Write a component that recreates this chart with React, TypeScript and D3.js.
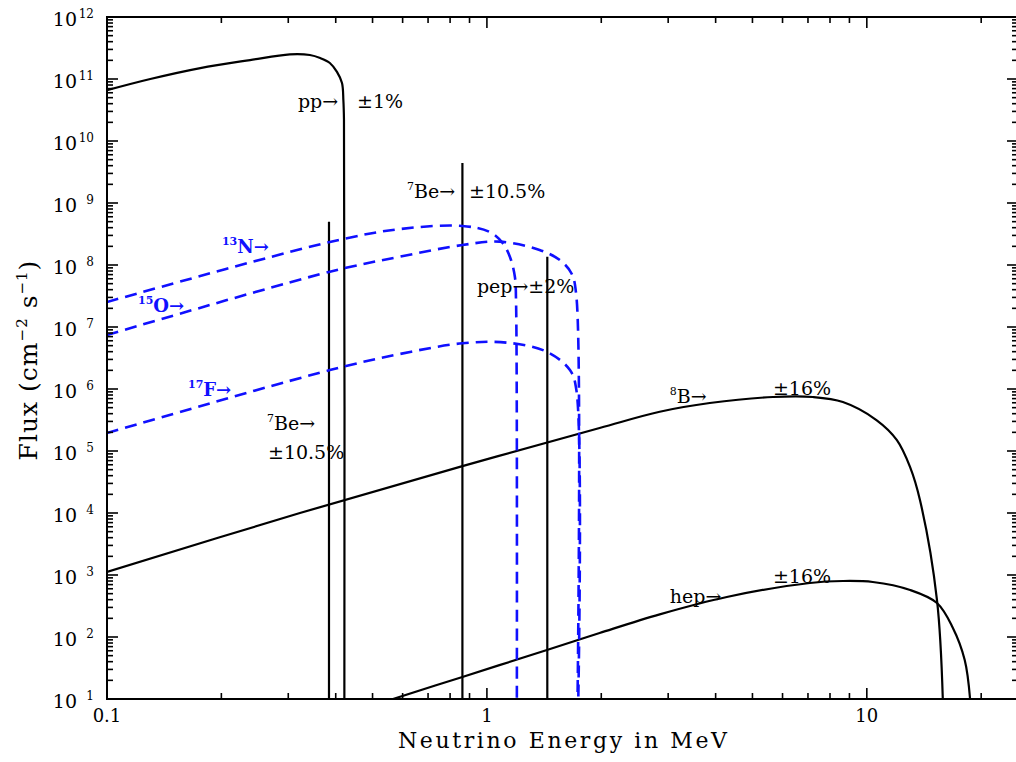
import React from "react";
import * as d3 from "d3";

type Pt = [number, number];

// Energies in MeV, flux in cm^-2 s^-1 (per MeV for continua)
const ppSpectrum: Pt[] = [
  [0.1, 6.6e10], [0.13, 1.0e11], [0.176, 1.5e11], [0.238, 2.02e11], [0.303, 2.5e11],
  [0.342, 2.44e11], [0.364, 2.18e11], [0.386, 1.81e11], [0.403, 1.3e11], [0.4155, 8.6e10],
  [0.419, 4.5e10], [0.4205, 2.2e10], [0.4215, 10],
];
const b8Spectrum: Pt[] = [
  [0.1, 1.12e3], [0.322, 1.0e4], [0.862, 5.7e4], [1.98, 2.35e5], [2.85, 4.3e5],
  [3.86, 5.94e5], [5.66, 7.43e5], [7.21, 7.43e5], [8.65, 6.17e5], [10.6, 3.16e5],
  [12.0, 1.5e5], [13.0, 5.5e4], [13.8, 1.62e4], [15.3, 395], [15.85, 10],
];
const hepSpectrum: Pt[] = [
  [0.566, 10], [0.862, 22.7], [1.439, 61.7], [1.98, 116], [2.85, 232], [4.28, 442],
  [7.08, 743], [8.65, 800], [10.37, 771], [13.0, 573], [15.3, 353], [16.8, 145],
  [18.1, 42.6], [18.7, 10],
];
const n13Spectrum: Pt[] = [
  [0.1, 2.53e7], [0.386, 2.35e8], [0.59, 3.8e8], [0.862, 4.26e8], [1.018, 3.4e8],
  [1.1, 2.26e8], [1.15, 1.35e8], [1.185, 6.4e7], [1.193, 2.7e7], [1.199, 10],
];
const o15Spectrum: Pt[] = [
  [0.1, 7.43e6], [0.386, 7.8e7], [0.59, 1.36e8], [0.862, 2.1e8], [1.08, 2.38e8],
  [1.376, 1.75e8], [1.556, 1.2e8], [1.67, 7.3e7], [1.72, 3.1e7], [1.732, 10],
];
const f17Spectrum: Pt[] = [
  [0.1, 1.95e5], [0.386, 2.02e6], [0.59, 3.67e6], [0.862, 5.46e6], [1.127, 5.6e6],
  [1.436, 4.0e6], [1.654, 2.02e6], [1.72, 9.6e5], [1.74, 10],
];

// Line sources (7Be 0.384, 7Be 0.862, pep 1.442)
const lineEnergies = [0.384, 0.862, 1.442];
const lineFluxes = [5.0e8, 4.4e9, 1.36e8];

const xDomain: Pt = [0.1, 25];
const yDomain: Pt = [10, 1e12];
const xTickValues = [0.1, 1, 10];
const xTickLabels = ["0.1", "1", "10"];
const yTickExponents = [1, 2, 3, 4, 5, 6, 7, 8, 9, 10, 11, 12];

type Part = { t: string; sup?: boolean };
type Ann = { E: number; F: number; parts: Part[]; blue?: boolean };

const annotations: Ann[] = [
  { E: 0.318, F: 3.4e10, parts: [{ t: "pp→" }] },
  { E: 0.455, F: 3.4e10, parts: [{ t: "±1%" }] },
  { E: 0.616, F: 1.2e9, parts: [{ t: "7", sup: true }, { t: "Be→" }] },
  { E: 0.897, F: 1.2e9, parts: [{ t: "±10.5%" }] },
  { E: 0.2007, F: 1.56e8, parts: [{ t: "13", sup: true }, { t: "N→" }], blue: true },
  { E: 0.1207, F: 1.75e7, parts: [{ t: "15", sup: true }, { t: "O→" }], blue: true },
  { E: 0.1634, F: 7.7e5, parts: [{ t: "17", sup: true }, { t: "F→" }], blue: true },
  { E: 0.2637, F: 2.18e5, parts: [{ t: "7", sup: true }, { t: "Be→" }] },
  { E: 0.2653, F: 7.43e4, parts: [{ t: "±10.5%" }] },
  { E: 0.941, F: 3.53e7, parts: [{ t: "pep→±2%" }] },
  { E: 3.03, F: 5.94e5, parts: [{ t: "8", sup: true }, { t: "B→" }] },
  { E: 5.66, F: 8.0e5, parts: [{ t: "±16%" }] },
  { E: 3.03, F: 353, parts: [{ t: "hep→" }] },
  { E: 5.66, F: 743, parts: [{ t: "±16%" }] },
];

const FONT = "'DejaVu Serif', serif";

export default function App() {
  const W = 1016;
  const H = 762;
  const x = d3.scaleLog().domain(xDomain).range([107, 1018]);
  const y = d3.scaleLog().domain(yDomain).range([699, 17]);
  const [x0, x1] = x.range();
  const [y0, y1] = y.range();
  const line = d3
    .line<Pt>()
    .x((d) => x(d[0]))
    .y((d) => y(d[1]))
    .curve(d3.curveCatmullRom.alpha(0.5));

  const xTicks: { v: number; major: boolean }[] = [];
  [0.1, 1, 10].forEach((b) => {
    for (let m = 1; m <= 9; m++) {
      const v = b * m;
      if (v >= xDomain[0] && v <= xDomain[1] + 1e-9) xTicks.push({ v, major: m === 1 });
    }
  });
  const yTicks: { v: number; major: boolean }[] = [];
  for (let e = 1; e <= 12; e++) {
    for (let m = 1; m <= 9; m++) {
      const v = m * Math.pow(10, e);
      if (v <= yDomain[1] * 1.0001) yTicks.push({ v, major: m === 1 });
    }
  }

  const blackSeries = [ppSpectrum, b8Spectrum, hepSpectrum];
  const blueSeries = [n13Spectrum, o15Spectrum, f17Spectrum];

  return (
    <svg
      width={W}
      height={H}
      style={{ position: "absolute", left: 0, top: 0, background: "#fff" }}
      fontFamily={FONT}
    >
      <defs>
        <clipPath id="plotclip">
          <rect x={x0} y={y1} width={x1 - x0} height={y0 - y1} />
        </clipPath>
      </defs>
      <rect x={0} y={0} width={W} height={H} fill="#fff" />

      <g clipPath="url(#plotclip)">
        {blackSeries.map((s, i) => (
          <path key={"b" + i} d={line(s) || ""} fill="none" stroke="#000" strokeWidth={2.2} />
        ))}
        {lineEnergies.map((e, i) => (
          <line
            key={"l" + i}
            x1={x(e)}
            x2={x(e)}
            y1={y(lineFluxes[i])}
            y2={y0}
            stroke="#000"
            strokeWidth={2.2}
          />
        ))}
        {blueSeries.map((s, i) => (
          <path
            key={"u" + i}
            d={line(s) || ""}
            fill="none"
            stroke="#1010ff"
            strokeWidth={2.6}
            strokeDasharray="12,7"
          />
        ))}
      </g>

      {/* frame */}
      <rect x={x0} y={y1} width={x1 - x0} height={y0 - y1} fill="none" stroke="#000" strokeWidth={2} />

      {/* x ticks */}
      {xTicks.map((t, i) => {
        const px = x(t.v);
        const len = t.major ? 11 : 6;
        return (
          <g key={"xt" + i}>
            <line x1={px} x2={px} y1={y0} y2={y0 - len} stroke="#000" strokeWidth={1.6} />
            <line x1={px} x2={px} y1={y1} y2={y1 + len} stroke="#000" strokeWidth={1.6} />
          </g>
        );
      })}
      {/* y ticks */}
      {yTicks.map((t, i) => {
        const py = y(t.v);
        const len = t.major ? 11 : 6;
        return (
          <g key={"yt" + i}>
            <line x1={x0} x2={x0 + len} y1={py} y2={py} stroke="#000" strokeWidth={1.6} />
            <line x1={x1} x2={x1 - len} y1={py} y2={py} stroke="#000" strokeWidth={1.6} />
          </g>
        );
      })}

      {/* x tick labels */}
      {xTickValues.map((v, i) => (
        <text key={"xl" + i} x={x(v)} y={722} textAnchor="middle" fontSize={18} fill="#000">
          {xTickLabels[i]}
        </text>
      ))}
      {/* y tick labels */}
      {yTickExponents.map((e) => {
        const py = y(Math.pow(10, e));
        return (
          <g key={"yl" + e}>
            <text x={77} y={py + 9} textAnchor="end" fontSize={19} fill="#000">
              10
            </text>
            <text x={94} y={py + 1} textAnchor="end" fontSize={12} fill="#000">
              {String(e)}
            </text>
          </g>
        );
      })}

      {/* annotations */}
      {annotations.map((a, i) => (
        <text
          key={"an" + i}
          x={x(a.E)}
          y={y(a.F)}
          fontSize={a.blue ? 18 : 19}
          fontWeight={a.blue ? "bold" : "normal"}
          fill={a.blue ? "#1010ff" : "#000"}
        >
          {a.parts.map((p, j) =>
            p.sup ? (
              <tspan key={j} fontSize={11} dy={-8}>
                {p.t}
              </tspan>
            ) : (
              <tspan key={j} dy={j > 0 && a.parts[j - 1].sup ? 8 : 0}>
                {p.t}
              </tspan>
            )
          )}
        </text>
      ))}

      {/* axis titles */}
      <text
        x={(398 + 727) / 2}
        y={748}
        textAnchor="middle"
        fontSize={22}
        textLength={329}
        lengthAdjust="spacing"
        fill="#000"
      >
        Neutrino Energy in MeV
      </text>
      <text
        transform={`translate(37,360) rotate(-90)`}
        textAnchor="middle"
        fontSize={25}
        letterSpacing={1}
        fill="#000"
      >
        <tspan>Flux (cm</tspan>
        <tspan fontSize={15} dy={-10}>−2</tspan>
        <tspan dy={10}> s</tspan>
        <tspan fontSize={15} dy={-10}>−1</tspan>
        <tspan dy={10}>)</tspan>
      </text>
    </svg>
  );
}
